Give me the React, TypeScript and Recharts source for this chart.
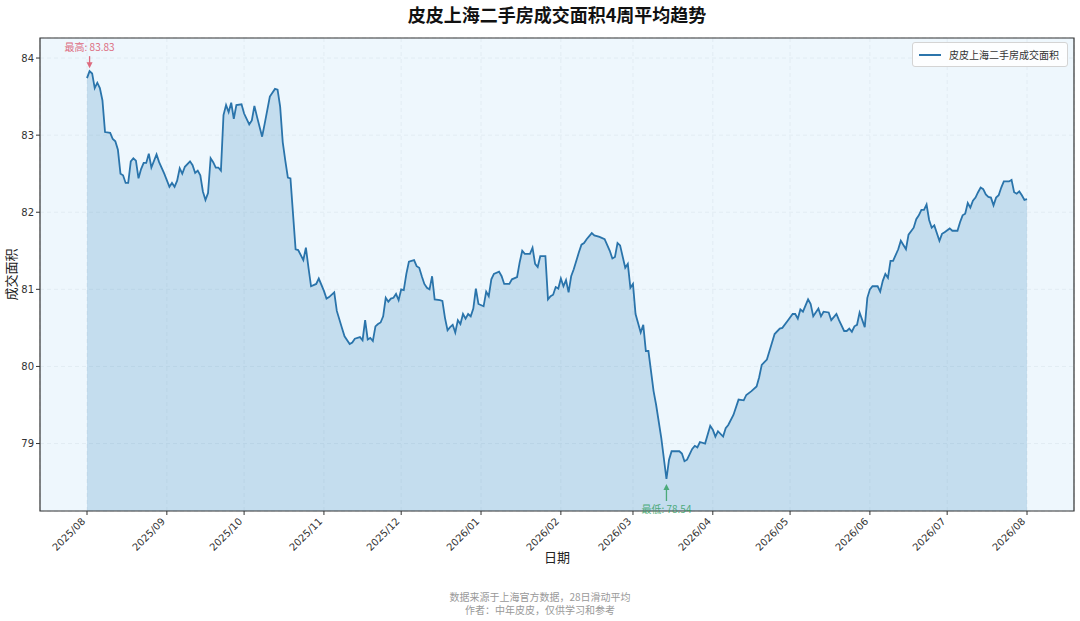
import {
  Area,
  CartesianGrid,
  ComposedChart,
  Label,
  ReferenceArea,
  ReferenceDot,
  XAxis,
  YAxis,
} from "recharts";

// days since 2025-08-01
const DAYS = [
  0, 1, 2, 3, 4, 5, 6, 7, 9, 10, 11, 12, 13, 14, 15, 16, 17, 18, 19, 20, 21, 22, 23, 24, 25, 27, 28, 30, 32, 33, 34,
  35, 36, 37, 38, 40, 41, 42, 43, 44, 45, 46, 47, 48, 49, 50, 51, 52, 53, 54, 55, 56, 57, 58, 60, 61, 63, 64, 65, 66,
  68, 69, 71, 73, 74, 75, 76, 77, 78, 79, 81, 82, 84, 85, 86, 87, 89, 90, 92, 93, 94, 96, 97, 99, 100, 102, 103, 104,
  106, 107, 108, 109, 110, 111, 112, 113, 114, 115, 116, 117, 118, 119, 120, 121, 122, 123, 124, 125, 126, 127, 128,
  129, 130, 131, 132, 133, 134, 135, 137, 138, 139, 140, 141, 142, 143, 144, 145, 146, 147, 148, 149, 150, 151, 152,
  154, 155, 156, 157, 158, 160, 161, 162, 164, 165, 167, 168, 169, 170, 172, 173, 174, 175, 176, 178, 179, 180, 181,
  182, 183, 184, 185, 186, 187, 188, 189, 191, 192, 193, 194, 196, 197, 199, 201, 203, 204, 205, 206, 207, 209, 210,
  211, 212, 213, 215, 216, 217, 218, 220, 221, 223, 225, 226, 227, 230, 231, 232, 233, 235, 236, 237, 238, 240, 242,
  243, 244, 245, 247, 248, 249, 251, 253, 255, 256, 258, 260, 261, 262, 264, 265, 266, 267, 269, 270, 272, 274, 275,
  276, 277, 278, 280, 281, 282, 284, 285, 286, 288, 289, 291, 292, 294, 295, 296, 297, 298, 299, 300, 302, 303, 304,
  305, 307, 308, 309, 310, 311, 312, 313, 315, 316, 318, 319, 321, 322, 323, 324, 325, 326, 327, 328, 329, 331, 332,
  333, 335, 336, 338, 339, 340, 341, 342, 343, 344, 345, 346, 347, 348, 349, 350, 351, 352, 353, 354, 355, 356, 358,
  359, 360, 361, 362, 363, 364, 365,
];

const AREA = [
  83.74, 83.83, 83.8, 83.61, 83.68, 83.61, 83.45, 83.04, 83.03, 82.95, 82.92, 82.81, 82.5, 82.48, 82.38, 82.38, 82.66,
  82.7, 82.67, 82.44, 82.56, 82.64, 82.64, 82.76, 82.58, 82.75, 82.65, 82.5, 82.33, 82.38, 82.33, 82.41, 82.57, 82.5,
  82.59, 82.66, 82.61, 82.51, 82.54, 82.48, 82.27, 82.16, 82.25, 82.7, 82.65, 82.58, 82.58, 82.54, 83.26, 83.39, 83.3,
  83.42, 83.21, 83.39, 83.4, 83.28, 83.14, 83.19, 83.38, 83.24, 82.98, 83.15, 83.5, 83.6, 83.59, 83.37, 82.91, 82.67,
  82.45, 82.44, 81.52, 81.51, 81.38, 81.54, 81.28, 81.04, 81.07, 81.14, 80.98, 80.88, 80.9, 80.96, 80.72, 80.5, 80.39,
  80.29, 80.31, 80.36, 80.38, 80.34, 80.6, 80.35, 80.37, 80.33, 80.52, 80.55, 80.57, 80.65, 80.89, 80.84, 80.88, 80.89,
  80.94, 80.86, 81.0, 80.99, 81.2, 81.36, 81.37, 81.38, 81.3, 81.28, 81.17, 81.07, 81.02, 81.0, 81.17, 80.87, 80.86,
  80.85, 80.63, 80.47, 80.51, 80.54, 80.44, 80.6, 80.55, 80.68, 80.62, 80.68, 80.65, 80.75, 81.01, 80.81, 80.78, 80.97,
  80.91, 81.13, 81.2, 81.23, 81.17, 81.07, 81.07, 81.13, 81.16, 81.35, 81.5, 81.46, 81.46, 81.54, 81.33, 81.29, 81.43,
  81.43, 80.87, 80.91, 80.93, 81.03, 81.01, 81.14, 81.04, 81.12, 80.96, 81.17, 81.26, 81.48, 81.58, 81.6, 81.65, 81.73,
  81.7, 81.68, 81.65, 81.5, 81.4, 81.42, 81.6, 81.57, 81.28, 81.33, 81.02, 81.07, 80.68, 80.44, 80.54, 80.2, 80.2,
  79.68, 79.5, 79.07, 78.54, 78.79, 78.9, 78.9, 78.87, 78.77, 78.79, 78.93, 78.97, 78.95, 79.02, 79.0, 79.23, 79.18,
  79.09, 79.16, 79.09, 79.2, 79.24, 79.37, 79.57, 79.56, 79.63, 79.68, 79.74, 79.86, 80.02, 80.09, 80.2, 80.31, 80.42,
  80.49, 80.5, 80.59, 80.68, 80.68, 80.62, 80.74, 80.71, 80.87, 80.81, 80.65, 80.75, 80.65, 80.71, 80.7, 80.6, 80.68,
  80.6, 80.46, 80.46, 80.49, 80.45, 80.52, 80.54, 80.7, 80.51, 80.89, 81.0, 81.04, 81.04, 80.97, 81.11, 81.2, 81.15,
  81.37, 81.37, 81.52, 81.63, 81.52, 81.71, 81.8, 81.91, 81.96, 82.03, 82.03, 82.1, 81.9, 81.8, 81.83, 81.63, 81.72,
  81.74, 81.79, 81.76, 81.76, 81.87, 81.96, 81.98, 82.12, 82.06, 82.15, 82.19, 82.26, 82.32, 82.3, 82.23, 82.2, 82.19,
  82.09, 82.19, 82.22, 82.32, 82.4, 82.4, 82.42, 82.26, 82.24, 82.27, 82.22, 82.16, 82.17,
];

const MONTHS = [
  "2025/08", "2025/09", "2025/10", "2025/11", "2025/12", "2026/01", "2026/02",
  "2026/03", "2026/04", "2026/05", "2026/06", "2026/07", "2026/08",
];
const Y_TICKS = [79, 80, 81, 82, 83, 84];
const SERIES_NAME = "皮皮上海二手房成交面积";

const START = Date.UTC(2025, 7, 1);
const DAY_MS = 86400000;
const monthDay = (m: string) => {
  const [y, mo] = m.split("/").map(Number);
  return Math.round((Date.UTC(y, mo - 1, 1) - START) / DAY_MS);
};
const MONTH_DAYS = MONTHS.map(monthDay);
const LABEL_BY_DAY: Record<number, string> = {};
MONTHS.forEach((m, i) => (LABEL_BY_DAY[MONTH_DAYS[i]] = m));

const rows = DAYS.map((d, i) => ({ day: d, area: AREA[i] }));

const span = DAYS[DAYS.length - 1] - DAYS[0];
const X_DOMAIN = [DAYS[0] - span * 0.05, DAYS[DAYS.length - 1] + span * 0.05];
const Y_DOMAIN = [78.125, 84.26];

const maxVal = Math.max(...AREA);
const minVal = Math.min(...AREA);
const maxDay = DAYS[AREA.indexOf(maxVal)];
const minDay = DAYS[AREA.indexOf(minVal)];

const LINE = "#2a74ab";
const TICK_FONT = "'DejaVu Sans', 'Noto Sans CJK SC', sans-serif";
const CJK_FONT = "'Noto Sans CJK SC', sans-serif";

function MonthTick({ x, y, payload }: any) {
  const tx = x - 1;
  const ty = y + 5;
  return (
    <text
      x={tx}
      y={ty}
      transform={`rotate(-45 ${tx} ${ty})`}
      textAnchor="end"
      fontSize={10}
      fill="#333"
      fontFamily={TICK_FONT}
    >
      {LABEL_BY_DAY[payload.value]}
    </text>
  );
}

function MaxMark({ cx, cy }: any) {
  const c = "#d9485f";
  return (
    <g opacity={0.8}>
      <line x1={cx} y1={cy - 15} x2={cx} y2={cy - 8} stroke={c} strokeWidth={1.3} />
      <path d={`M${cx - 3},${cy - 9} L${cx + 3},${cy - 9} L${cx},${cy - 3} Z`} fill={c} />
      <text x={cx} y={cy - 20} textAnchor="middle" fontSize={10} fill={c} fontFamily={CJK_FONT}>
        {`最高: ${maxVal.toFixed(2)}`}
      </text>
    </g>
  );
}

function MinMark({ cx, cy }: any) {
  const c = "#2e9e5e";
  return (
    <g opacity={0.8}>
      <line x1={cx} y1={cy + 22} x2={cx} y2={cy + 10} stroke={c} strokeWidth={1.3} />
      <path d={`M${cx - 3},${cy + 11} L${cx + 3},${cy + 11} L${cx},${cy + 5} Z`} fill={c} />
      <text x={cx} y={cy + 34} textAnchor="middle" fontSize={10} fill={c} fontFamily={CJK_FONT}>
        {`最低: ${minVal.toFixed(2)}`}
      </text>
    </g>
  );
}

export default function App() {
  return (
    <div style={{ position: "absolute", left: 0, top: 0, width: 1080, height: 621, background: "#fff" }}>
      <div
        style={{
          position: "absolute",
          left: 40,
          top: 3,
          width: 1034,
          textAlign: "center",
          fontFamily: CJK_FONT,
          fontWeight: 700,
          fontSize: 18,
          lineHeight: "22px",
          color: "#111",
        }}
      >
        皮皮上海二手房成交面积4周平均趋势
      </div>
      <ComposedChart width={1080} height={621} data={rows} margin={{ top: 38, right: 6, bottom: 0, left: 0 }}>
        <CartesianGrid fill="#eef7fd" stroke="#e2ecf3" strokeDasharray="4 3" />
        <XAxis
          type="number"
          dataKey="day"
          domain={X_DOMAIN}
          ticks={MONTH_DAYS}
          interval={0}
          height={110}
          axisLine={false}
          tickSize={4}
          tickLine={{ stroke: "#333" }}
          tick={<MonthTick />}
        >
          <Label
            content={({ viewBox }: any) => (
              <text
                x={viewBox.x + viewBox.width / 2}
                y={viewBox.y + 51}
                textAnchor="middle"
                fontSize={13}
                fill="#222"
                fontFamily={CJK_FONT}
              >
                日期
              </text>
            )}
          />
        </XAxis>
        <YAxis
          type="number"
          domain={Y_DOMAIN}
          ticks={Y_TICKS}
          width={40}
          axisLine={false}
          tickSize={4}
          tickLine={{ stroke: "#333" }}
          tick={{ fontSize: 10, fill: "#333", fontFamily: TICK_FONT }}
        >
          <Label
            content={({ viewBox }: any) => {
              const x = viewBox.x + 16;
              const y = viewBox.y + viewBox.height / 2;
              return (
                <text
                  x={x}
                  y={y}
                  transform={`rotate(-90 ${x} ${y})`}
                  textAnchor="middle"
                  fontSize={13}
                  fill="#222"
                  fontFamily={CJK_FONT}
                >
                  成交面积
                </text>
              );
            }}
          />
        </YAxis>
        <Area
          type="linear"
          dataKey="area"
          name={SERIES_NAME}
          stroke={LINE}
          strokeWidth={1.8}
          fill="#1f77b4"
          fillOpacity={0.2}
          dot={false}
          activeDot={false}
          isAnimationActive={false}
        />
        <ReferenceArea
          x1={X_DOMAIN[0]}
          x2={X_DOMAIN[1]}
          y1={Y_DOMAIN[0]}
          y2={Y_DOMAIN[1]}
          fill="none"
          stroke="#333"
          strokeWidth={1.2}
        />
        <ReferenceDot x={maxDay} y={maxVal} shape={<MaxMark />} />
        <ReferenceDot x={minDay} y={minVal} shape={<MinMark />} />
      </ComposedChart>
      <div
        style={{
          position: "absolute",
          top: 42,
          right: 12,
          display: "flex",
          alignItems: "center",
          gap: 8,
          background: "rgba(255,255,255,0.85)",
          border: "1px solid #d4d4d4",
          borderRadius: 3,
          padding: "5px 8px 5px 6px",
          fontFamily: CJK_FONT,
          fontSize: 10,
          lineHeight: "13px",
          color: "#333",
        }}
      >
        <span style={{ width: 22, height: 2, background: LINE, display: "inline-block" }} />
        {SERIES_NAME}
      </div>
      <div
        style={{
          position: "absolute",
          left: 0,
          top: 590,
          width: 1080,
          textAlign: "center",
          fontFamily: CJK_FONT,
          fontSize: 10,
          lineHeight: "13px",
          color: "#999",
        }}
      >
        <div>数据来源于上海官方数据，28日滑动平均</div>
        <div>作者：中年皮皮，仅供学习和参考</div>
      </div>
    </div>
  );
}
